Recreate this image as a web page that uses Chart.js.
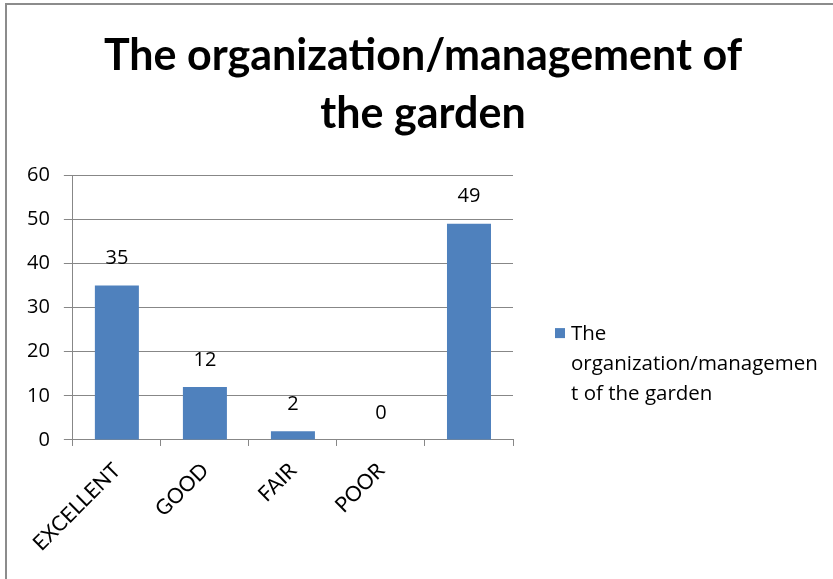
<!DOCTYPE html>
<html>
<head>
<meta charset="utf-8">
<script src="https://cdn.jsdelivr.net/npm/chart.js@4"></script>
<style>
  html, body { margin: 0; padding: 0; background: #fff; }
  #frame { position: absolute; left: 5px; top: 3px; width: 826px; height: 574px;
           border-top: 2px solid #8c8c8c; border-left: 2px solid #8c8c8c; }
  canvas { display: block; }
</style>
</head>
<body>
<div id="frame"><canvas id="c" width="826" height="574"></canvas></div>
<script>
const titleLines = ['The organization/management of', 'the garden'];
const categories = ['EXCELLENT', 'GOOD', 'FAIR', 'POOR', ''];
const seriesName = 'The organization/management of the garden';
const legendLines = ['The', 'organization/managemen', 't of the garden'];
const values = [35, 12, 2, 0, 49];
const yTicks = { min: 0, max: 60, step: 10 };

const TEXT_FONT = 'Open Sans';
const barColor = '#4F81BD';
const gridColor = '#878787';

const valueLabels = {
  id: 'valueLabels',
  afterDatasetsDraw(chart) {
    const ctx = chart.ctx;
    const meta = chart.getDatasetMeta(0);
    ctx.save();
    ctx.font = '20px "' + TEXT_FONT + '"';
    ctx.fillStyle = '#000';
    ctx.textAlign = 'center';
    ctx.textBaseline = 'middle';
    meta.data.forEach((bar, i) => {
      ctx.fillText(String(values[i]), bar.x, bar.y - 27);
    });
    ctx.restore();
  }
};

// Side legend (series key), wrapped over several lines like the original.
const sideLegend = {
  id: 'sideLegend',
  afterDraw(chart) {
    const ctx = chart.ctx;
    const area = chart.chartArea;
    const ds = chart.data.datasets[0];
    const boxX = area.right + 42;
    const firstY = area.top + 159;
    const lineGap = 30;
    ctx.save();
    ctx.fillStyle = ds.backgroundColor;
    ctx.fillRect(boxX, firstY - 6, 10, 10);
    ctx.font = '20.5px "' + TEXT_FONT + '"';
    ctx.fillStyle = '#000';
    ctx.textAlign = 'left';
    ctx.textBaseline = 'middle';
    legendLines.forEach((line, i) => {
      ctx.fillText(line, boxX + 16, firstY + i * lineGap);
    });
    ctx.restore();
  }
};

new Chart(document.getElementById('c'), {
  type: 'bar',
  data: {
    labels: categories,
    datasets: [{
      label: seriesName,
      data: values,
      backgroundColor: barColor,
      borderWidth: 0,
      barPercentage: 0.5,
      categoryPercentage: 1.0
    }]
  },
  options: {
    responsive: false,
    animation: false,
    layout: { padding: { left: 6, right: 0, bottom: 11 } },
    plugins: {
      title: {
        display: true,
        text: titleLines,
        color: '#000',
        font: { family: 'Lato', size: 43, weight: 'bold', lineHeight: 1.35 },
        padding: { top: 22, bottom: 32 }
      },
      legend: { display: false },
      tooltip: { enabled: false }
    },
    scales: {
      x: {
        grid: { drawOnChartArea: false, drawTicks: true, tickLength: 6, color: gridColor, offset: true },
        border: { color: gridColor },
        ticks: { minRotation: 45, maxRotation: 45, color: '#000', font: { family: 'Lato', size: 21 }, padding: 12 }
      },
      y: {
        min: yTicks.min,
        max: yTicks.max,
        grid: { color: gridColor, tickLength: 9 },
        border: { color: gridColor },
        ticks: { stepSize: yTicks.step, color: '#000', font: { family: TEXT_FONT, size: 20 }, padding: 14 }
      },
      // empty right-hand box that reserves room for the side legend
      legendSpace: {
        type: 'linear',
        position: 'right',
        grid: { display: false, drawTicks: false },
        border: { display: false },
        ticks: { display: false },
        afterFit(scale) { scale.width = 320; }
      }
    }
  },
  plugins: [valueLabels, sideLegend]
});
</script>
</body>
</html>
